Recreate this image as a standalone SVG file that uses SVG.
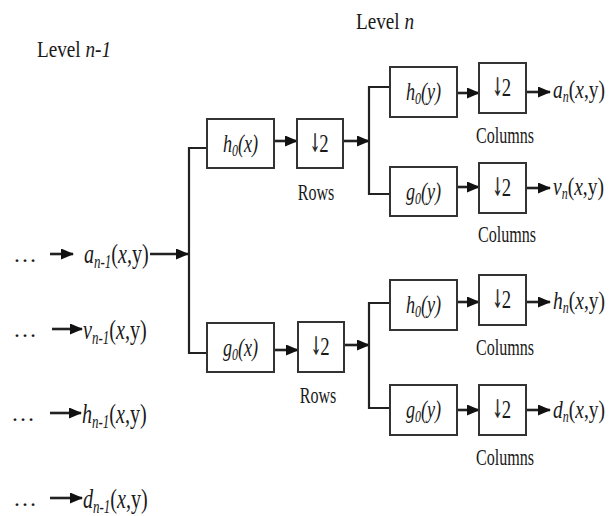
<svg xmlns="http://www.w3.org/2000/svg" width="614" height="516" viewBox="0 0 614 516">
<defs>
<marker id="ah" markerUnits="userSpaceOnUse" markerWidth="13" markerHeight="11" refX="12" refY="5.5" orient="auto"><path d="M0,0 L13,5.5 L0,11 z" fill="#111"/></marker>
</defs>
<style>
.box{fill:#fff;stroke:#333;stroke-width:2}
.ln{fill:none;stroke:#222;stroke-width:2.2}
.ar{fill:none;stroke:#222;stroke-width:2.6;marker-end:url(#ah)}
text{font-family:"Liberation Serif","Times New Roman",serif;fill:#1a1a1a}
.it{font-style:italic}
.fl{font-size:26px;text-anchor:middle}
.dar{font-family:"DejaVu Serif","DejaVu Sans",serif;font-size:24px;text-anchor:middle;fill:#222;stroke:#222;stroke-width:0.9}
.two{font-size:25px;text-anchor:middle}
.cap{font-size:23px;text-anchor:middle}
.inl{font-size:28px}
.outl{font-size:26px}
.lev{font-size:24px}
.dots{font-size:24px}
</style>
<rect width="614" height="516" fill="#fff"/>

<g id="levels">
<text class="lev" transform="translate(37,57) scale(0.8,1)">Level <tspan class="it">n-1</tspan></text>
<text class="lev" transform="translate(356,29) scale(0.8,1)">Level <tspan class="it">n</tspan></text>
</g>

<g id="connectors">
<line class="ar" x1="50" y1="254" x2="73" y2="254"/>
<line class="ar" x1="52" y1="329" x2="82" y2="329"/>
<line class="ar" x1="50" y1="413" x2="81" y2="413"/>
<line class="ar" x1="50" y1="498" x2="82" y2="498"/>
<line class="ar" x1="150" y1="254" x2="188" y2="254"/>
<polyline class="ln" points="207,148 189,148 189,353 207,353"/>
<line class="ar" x1="274" y1="141" x2="297" y2="141"/>
<line class="ar" x1="343" y1="141" x2="369" y2="141"/>
<line class="ar" x1="274" y1="350" x2="298" y2="350"/>
<line class="ar" x1="344" y1="345" x2="369" y2="345"/>
<polyline class="ln" points="390,87 369,87 369,194 390,194"/>
<line class="ar" x1="457" y1="93" x2="479" y2="93"/>
<line class="ar" x1="526" y1="92" x2="550" y2="92"/>
<line class="ar" x1="457" y1="187" x2="479" y2="187"/>
<line class="ar" x1="526" y1="188" x2="550" y2="188"/>
<polyline class="ln" points="390,303 369,303 369,408 390,408"/>
<line class="ar" x1="457" y1="302" x2="479" y2="302"/>
<line class="ar" x1="526" y1="302" x2="550" y2="302"/>
<line class="ar" x1="457" y1="410" x2="479" y2="410"/>
<line class="ar" x1="526" y1="410" x2="550" y2="410"/>
</g>

<g id="in-a">
<text class="dots" x="13" y="262">…</text>
<text class="inl" transform="translate(84,263) scale(0.72,1)"><tspan class="it">a</tspan><tspan class="it" font-size="18" dy="5">n-1</tspan><tspan dy="-5">(</tspan><tspan class="it">x</tspan>,y)</text>
</g>
<g id="in-v">
<text class="dots" x="13" y="337">…</text>
<text class="inl" transform="translate(83,339) scale(0.72,1)"><tspan class="it">v</tspan><tspan class="it" font-size="18" dy="5">n-1</tspan><tspan dy="-5">(</tspan><tspan class="it">x</tspan>,y)</text>
</g>
<g id="in-h">
<text class="dots" x="11" y="421">…</text>
<text class="inl" transform="translate(82,423) scale(0.72,1)"><tspan class="it">h</tspan><tspan class="it" font-size="18" dy="5">n-1</tspan><tspan dy="-5">(</tspan><tspan class="it">x</tspan>,y)</text>
</g>
<g id="in-d">
<text class="dots" x="13" y="506">…</text>
<text class="inl" transform="translate(83,508) scale(0.72,1)"><tspan class="it">d</tspan><tspan class="it" font-size="18" dy="5">n-1</tspan><tspan dy="-5">(</tspan><tspan class="it">x</tspan>,y)</text>
</g>

<g id="h0x">
<rect class="box" x="207" y="119" width="67" height="49"/>
<text class="fl" transform="translate(240.5,152) scale(0.7,1)"><tspan class="it">h</tspan><tspan class="it" font-size="17" dy="4">0</tspan><tspan class="it" dy="-4">(x)</tspan></text>
</g>
<g id="ds-rows-top">
<rect class="box" x="297" y="119" width="46" height="49"/>
<text class="dar" transform="translate(315,151) scale(0.5,1)">↓</text>
<text class="two" transform="translate(324,152) scale(0.75,1)">2</text>
<text class="cap" transform="translate(316,200) scale(0.7,1)">Rows</text>
</g>
<g id="g0x">
<rect class="box" x="207" y="323" width="67" height="49"/>
<text class="fl" transform="translate(240.5,356) scale(0.7,1)"><tspan class="it">g</tspan><tspan class="it" font-size="17" dy="4">0</tspan><tspan class="it" dy="-4">(x)</tspan></text>
</g>
<g id="ds-rows-bottom">
<rect class="box" x="298" y="322" width="46" height="50"/>
<text class="dar" transform="translate(316,354) scale(0.5,1)">↓</text>
<text class="two" transform="translate(325,355) scale(0.75,1)">2</text>
<text class="cap" transform="translate(318,403) scale(0.7,1)">Rows</text>
</g>

<g id="h0y-a">
<rect class="box" x="390" y="67" width="67" height="50"/>
<text class="fl" transform="translate(423.5,100) scale(0.7,1)"><tspan class="it">h</tspan><tspan class="it" font-size="17" dy="4">0</tspan><tspan class="it" dy="-4">(y)</tspan></text>
</g>
<g id="ds-col-a">
<rect class="box" x="479" y="63" width="47" height="50"/>
<text class="dar" transform="translate(497.5,95) scale(0.5,1)">↓</text>
<text class="two" transform="translate(506.5,96) scale(0.75,1)">2</text>
<text class="cap" transform="translate(505,143) scale(0.7,1)">Columns</text>
</g>
<g id="out-a">
<text class="outl" transform="translate(553,98) scale(0.75,1)"><tspan class="it">a</tspan><tspan class="it" font-size="16" dy="4">n</tspan><tspan dy="-4">(</tspan><tspan class="it">x</tspan>,y)</text>
</g>

<g id="g0y-v">
<rect class="box" x="390" y="167" width="67" height="49"/>
<text class="fl" transform="translate(423.5,200) scale(0.7,1)"><tspan class="it">g</tspan><tspan class="it" font-size="17" dy="4">0</tspan><tspan class="it" dy="-4">(y)</tspan></text>
</g>
<g id="ds-col-v">
<rect class="box" x="479" y="163" width="47" height="50"/>
<text class="dar" transform="translate(497.5,195) scale(0.5,1)">↓</text>
<text class="two" transform="translate(506.5,196) scale(0.75,1)">2</text>
<text class="cap" transform="translate(507,242) scale(0.7,1)">Columns</text>
</g>
<g id="out-v">
<text class="outl" transform="translate(553,195) scale(0.75,1)"><tspan class="it">v</tspan><tspan class="it" font-size="16" dy="4">n</tspan><tspan dy="-4">(</tspan><tspan class="it">x</tspan>,y)</text>
</g>

<g id="h0y-h">
<rect class="box" x="390" y="280" width="67" height="50"/>
<text class="fl" transform="translate(423.5,313) scale(0.7,1)"><tspan class="it">h</tspan><tspan class="it" font-size="17" dy="4">0</tspan><tspan class="it" dy="-4">(y)</tspan></text>
</g>
<g id="ds-col-h">
<rect class="box" x="479" y="275" width="47" height="50"/>
<text class="dar" transform="translate(497.5,307) scale(0.5,1)">↓</text>
<text class="two" transform="translate(506.5,308) scale(0.75,1)">2</text>
<text class="cap" transform="translate(505,355) scale(0.7,1)">Columns</text>
</g>
<g id="out-h">
<text class="outl" transform="translate(553,309) scale(0.75,1)"><tspan class="it">h</tspan><tspan class="it" font-size="16" dy="4">n</tspan><tspan dy="-4">(</tspan><tspan class="it">x</tspan>,y)</text>
</g>

<g id="g0y-d">
<rect class="box" x="390" y="385" width="67" height="50"/>
<text class="fl" transform="translate(423.5,418) scale(0.7,1)"><tspan class="it">g</tspan><tspan class="it" font-size="17" dy="4">0</tspan><tspan class="it" dy="-4">(y)</tspan></text>
</g>
<g id="ds-col-d">
<rect class="box" x="479" y="385" width="47" height="50"/>
<text class="dar" transform="translate(497.5,417) scale(0.5,1)">↓</text>
<text class="two" transform="translate(506.5,418) scale(0.75,1)">2</text>
<text class="cap" transform="translate(505,465) scale(0.7,1)">Columns</text>
</g>
<g id="out-d">
<text class="outl" transform="translate(553,418) scale(0.75,1)"><tspan class="it">d</tspan><tspan class="it" font-size="16" dy="4">n</tspan><tspan dy="-4">(</tspan><tspan class="it">x</tspan>,y)</text>
</g>
</svg>
